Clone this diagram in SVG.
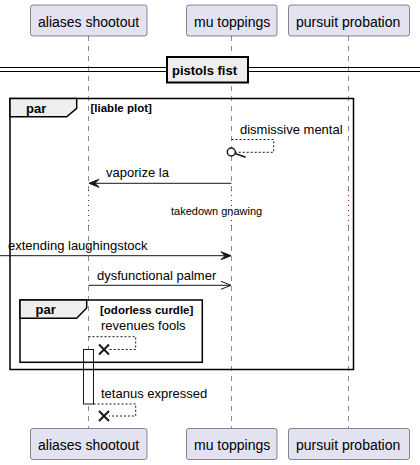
<svg xmlns="http://www.w3.org/2000/svg" width="420" height="465" viewBox="0 0 420 465">
<style>
.pbox{fill:#E2E2F0;stroke:#181818;stroke-width:0.5}
.ptxt{font-family:"Liberation Sans",Arial,sans-serif;font-size:14px;fill:#000}
.life{stroke:#181818;stroke-width:0.5;stroke-dasharray:5,5;fill:none}
.delay{stroke:#A80036;stroke-width:1;stroke-dasharray:1,4;fill:none}
.msg{font-family:"Liberation Sans",Arial,sans-serif;font-size:13px;fill:#000}
.small{font-family:"Liberation Sans",Arial,sans-serif;font-size:11px;fill:#000}
.bold{font-family:"Liberation Sans",Arial,sans-serif;font-weight:bold;fill:#000}
.line{stroke:#181818;stroke-width:1;fill:none}
.dash{stroke:#181818;stroke-width:1;stroke-dasharray:2,2;fill:none}
.frame{stroke:#000;stroke-width:1.5;fill:none}
.tab{fill:#EEEEEE;stroke:#000;stroke-width:1.5}
.x{stroke:#181818;stroke-width:2}
</style>
<g id="lifelines">
<line class="life" x1="88.5" y1="36" x2="88.5" y2="190"/>
<line class="delay" x1="88.5" y1="190" x2="88.5" y2="226"/>
<line class="life" x1="88.5" y1="226" x2="88.5" y2="428"/>
<line class="life" x1="231.5" y1="36" x2="231.5" y2="190"/>
<line class="delay" x1="231.5" y1="190" x2="231.5" y2="226"/>
<line class="life" x1="231.5" y1="226" x2="231.5" y2="428"/>
<line class="life" x1="348.5" y1="36" x2="348.5" y2="190"/>
<line class="delay" x1="348.5" y1="190" x2="348.5" y2="226"/>
<line class="life" x1="348.5" y1="226" x2="348.5" y2="428"/>
</g>
<g id="p_aliases_top"><rect class="pbox" x="30.5" y="5" width="116.5" height="31" rx="2.5"/><text class="ptxt" x="38" y="26.5">aliases shootout</text></g>
<g id="p_mu_top"><rect class="pbox" x="186.5" y="5" width="90.5" height="31" rx="2.5"/><text class="ptxt" x="194" y="26.5">mu toppings</text></g>
<g id="p_pursuit_top"><rect class="pbox" x="288.5" y="5" width="121" height="31" rx="2.5"/><text class="ptxt" x="296" y="26.5">pursuit probation</text></g>
<g id="p_aliases_bottom"><rect class="pbox" x="30.5" y="428.5" width="116.5" height="31" rx="2.5"/><text class="ptxt" x="38" y="450">aliases shootout</text></g>
<g id="p_mu_bottom"><rect class="pbox" x="186.5" y="428.5" width="90.5" height="31" rx="2.5"/><text class="ptxt" x="194" y="450">mu toppings</text></g>
<g id="p_pursuit_bottom"><rect class="pbox" x="288.5" y="428.5" width="121" height="31" rx="2.5"/><text class="ptxt" x="296" y="450">pursuit probation</text></g>
<g id="divider">
<line x1="0" y1="67.5" x2="420" y2="67.5" stroke="#000" stroke-width="1"/>
<line x1="0" y1="71.5" x2="420" y2="71.5" stroke="#000" stroke-width="1"/>
<rect x="167" y="57" width="81" height="25.5" fill="#EEEEEE" stroke="#000" stroke-width="2"/>
<text class="bold" x="172" y="75" font-size="13px">pistols fist</text>
</g>
<g id="activation"><rect x="83.5" y="349.5" width="10" height="54.5" fill="#fff" stroke="#181818" stroke-width="1"/></g>
<g id="par_outer">
<rect class="frame" x="10" y="98.5" width="343.5" height="271"/>
<path class="tab" d="M10,98.5 H76.7 V108.3 L66.7,116.7 H10 Z"/>
<text class="bold" x="26" y="112.5" font-size="13px">par</text>
<text class="bold" x="90.5" y="112" font-size="11.5px">[liable plot]</text>
</g>
<g id="par_inner">
<rect class="frame" x="20" y="300" width="182.3" height="62.3"/>
<path class="tab" d="M20,300 H86.7 V308 L76.7,318.3 H20 Z"/>
<text class="bold" x="35.5" y="314.3" font-size="13px">par</text>
<text class="bold" x="100" y="314" font-size="11.5px">[odorless curdle]</text>
</g>
<g id="connectors">
<path class="dash" d="M231.5,139.5 H273.7 V152.3 H235"/>
<circle cx="231.3" cy="152" r="4" fill="#fff" stroke="#181818" stroke-width="1.5"/>
<line x1="235" y1="153.5" x2="245.7" y2="157.3" stroke="#181818" stroke-width="1.5"/>
<text class="msg" x="240" y="134">dismissive mental</text>
<line class="line" x1="231.5" y1="183.3" x2="90" y2="183.3"/>
<polygon points="89,183.3 99,179.3 95,183.3 99,187.3" fill="#181818" stroke="#181818"/>
<text class="msg" x="106" y="177.3">vaporize la</text>
<text class="small" x="171" y="215">takedown gnawing</text>
<line class="line" x1="0" y1="255.7" x2="230" y2="255.7"/>
<polygon points="231,255.7 221,251.7 225,255.7 221,259.7" fill="#181818" stroke="#181818"/>
<text class="msg" x="8" y="250">extending laughingstock</text>
<line class="line" x1="88.5" y1="285.3" x2="231" y2="285.3"/>
<polyline class="line" points="221,281.3 231,285.3 221,289.3"/>
<text class="msg" x="97" y="280">dysfunctional palmer</text>
<path class="dash" d="M88.5,336.7 H135.7 V349.5 H109"/>
<line class="x" x1="99" y1="344.5" x2="109" y2="354.5"/>
<line class="x" x1="109" y1="344.5" x2="99" y2="354.5"/>
<text class="msg" x="101" y="330">revenues fools</text>
<path class="dash" d="M93.5,404 H135.7 V416 H109"/>
<line class="x" x1="99" y1="411" x2="109" y2="421"/>
<line class="x" x1="109" y1="411" x2="99" y2="421"/>
<text class="msg" x="101" y="398">tetanus expressed</text>
</g>
</svg>
